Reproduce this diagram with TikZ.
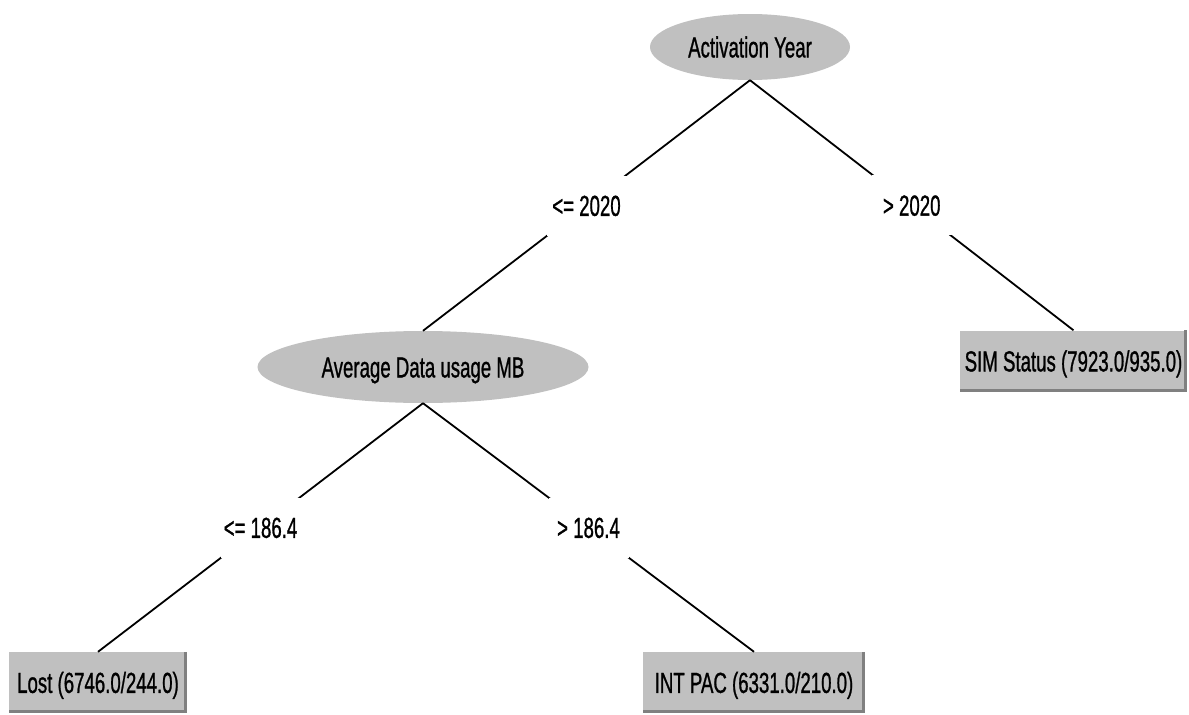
\documentclass[tikz,border=0pt]{standalone}
\usepackage{fontspec}
\setmainfont{Liberation Sans}[FakeBold=1.2]
\usetikzlibrary{shapes.geometric}
\definecolor{nodegray}{RGB}{192,192,192}
\definecolor{edgeshade}{RGB}{128,128,128}
% condensed lettering used throughout the tree
\newcommand{\narrowtext}[1]{\scalebox{0.645}[1]{#1}}

\begin{document}
\begin{tikzpicture}[x=1pt,y=-1pt,
  txt/.style={font=\fontsize{28.9pt}{30pt}\selectfont, text height=20.7pt, text depth=0pt, inner sep=0pt},
  split/.style={txt, ellipse, fill=nodegray},
  leaf/.style={txt, rectangle, fill=nodegray, minimum height=61pt},
  branch/.style={txt, fill=white, minimum width=80pt, minimum height=60pt},
  link/.style={line width=1.8pt},
  shade3d/.style={edgeshade, line width=3pt}]
\useasboundingbox[fill=white] (0,0) rectangle (1189,715);

% decision nodes
\node[split, minimum width=200pt, minimum height=66pt] (root) at (750,47) {\narrowtext{Activation Year}};
\node[split, minimum width=331pt, minimum height=72pt] (avg) at (423,367) {\narrowtext{Average Data usage MB}};

% leaves
\node[leaf, minimum width=227pt] (sim) at (1073.5,361) {\narrowtext{SIM Status (7923.0/935.0)}};
\node[leaf, minimum width=178pt] (lost) at (98,682.5) {\narrowtext{Lost (6746.0/244.0)}};
\node[leaf, minimum width=222pt] (intpac) at (754,682.5) {\narrowtext{INT PAC (6331.0/210.0)}};

% raised-box shading on the leaves
\foreach \b in {sim,lost,intpac}{
  \draw[shade3d] ([shift={(-1.5,0)}]\b.north east) -- ([shift={(-1.5,-1.5)}]\b.south east) -- ([shift={(0,-1.5)}]\b.south west);
}

% branches with their split values
\draw[link] (root.south) -- (avg.north) node[midway, branch] {\narrowtext{<= 2020}};
\draw[link] (root.south) -- (sim.north) node[midway, branch] {\narrowtext{> 2020}};
\draw[link] (avg.south) -- (lost.north) node[midway, branch] {\narrowtext{<= 186.4}};
\draw[link] (avg.south) -- (intpac.north) node[midway, branch] {\narrowtext{> 186.4}};
\end{tikzpicture}
\end{document}
